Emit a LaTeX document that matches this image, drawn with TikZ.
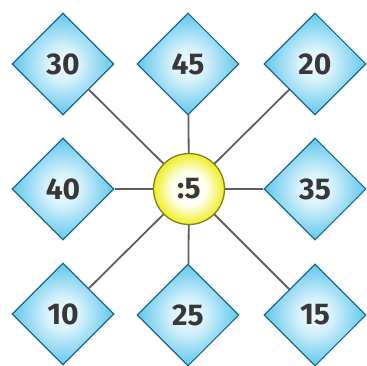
\documentclass[tikz,border=0pt]{standalone}
\usepackage{fontspec}
\setmainfont{Fira Sans}
\usetikzlibrary{shapes.geometric}
\definecolor{cyanA}{HTML}{22B0E6}
\definecolor{cyanB}{HTML}{D8F2FB}
\definecolor{dborder}{HTML}{1B6A86}
\definecolor{yelA}{HTML}{EEEE22}
\definecolor{yelB}{HTML}{FFFFF2}
\definecolor{cborder}{HTML}{7E7E22}
\definecolor{linec}{HTML}{5E5E5E}
\definecolor{txt}{HTML}{383838}
\pgfdeclareradialshading{dshade}{\pgfpoint{0bp}{0bp}}{color(0bp)=(cyanB!40!white); color(8bp)=(cyanB); color(34bp)=(cyanA); color(50bp)=(cyanA)}
\pgfdeclareradialshading{cshade}{\pgfpoint{0bp}{0bp}}{color(0bp)=(yelB); color(12bp)=(yelB); color(25bp)=(yelA); color(50bp)=(yelA)}
\tikzset{
  dia/.style={shape=diamond, inner sep=0pt, minimum width=102pt, minimum height=102pt,
    draw=dborder, line width=1.1pt, shading=dshade, text=txt, font=\fontsize{30}{30}\selectfont\bfseries},
  hub/.style={shape=circle, inner sep=0pt, minimum size=71pt, draw=cborder, line width=1.3pt,
    shading=cshade, text=txt, font=\fontsize{30}{30}\selectfont\bfseries},
  spoke/.style={draw=linec, line width=1.8pt}
}
\begin{document}
\begin{tikzpicture}[x=1pt,y=-1pt]
\useasboundingbox (0,0) rectangle (366,366);
\node[hub] (c) at (189,189) {:5};
\node[dia] (d30) at (63,64) {30};
\node[dia] (d45) at (188,64) {45};
\node[dia] (d20) at (315,64) {20};
\node[dia] (d40) at (63,189) {40};
\node[dia] (d35) at (315,189) {35};
\node[dia] (d10) at (63,314) {10};
\node[dia] (d25) at (188,315) {25};
\node[dia] (d15) at (315,315) {15};
\foreach \n in {d30,d45,d20,d40,d35,d10,d25,d15}
  \draw[spoke] (c) -- (\n);
\end{tikzpicture}
\end{document}
